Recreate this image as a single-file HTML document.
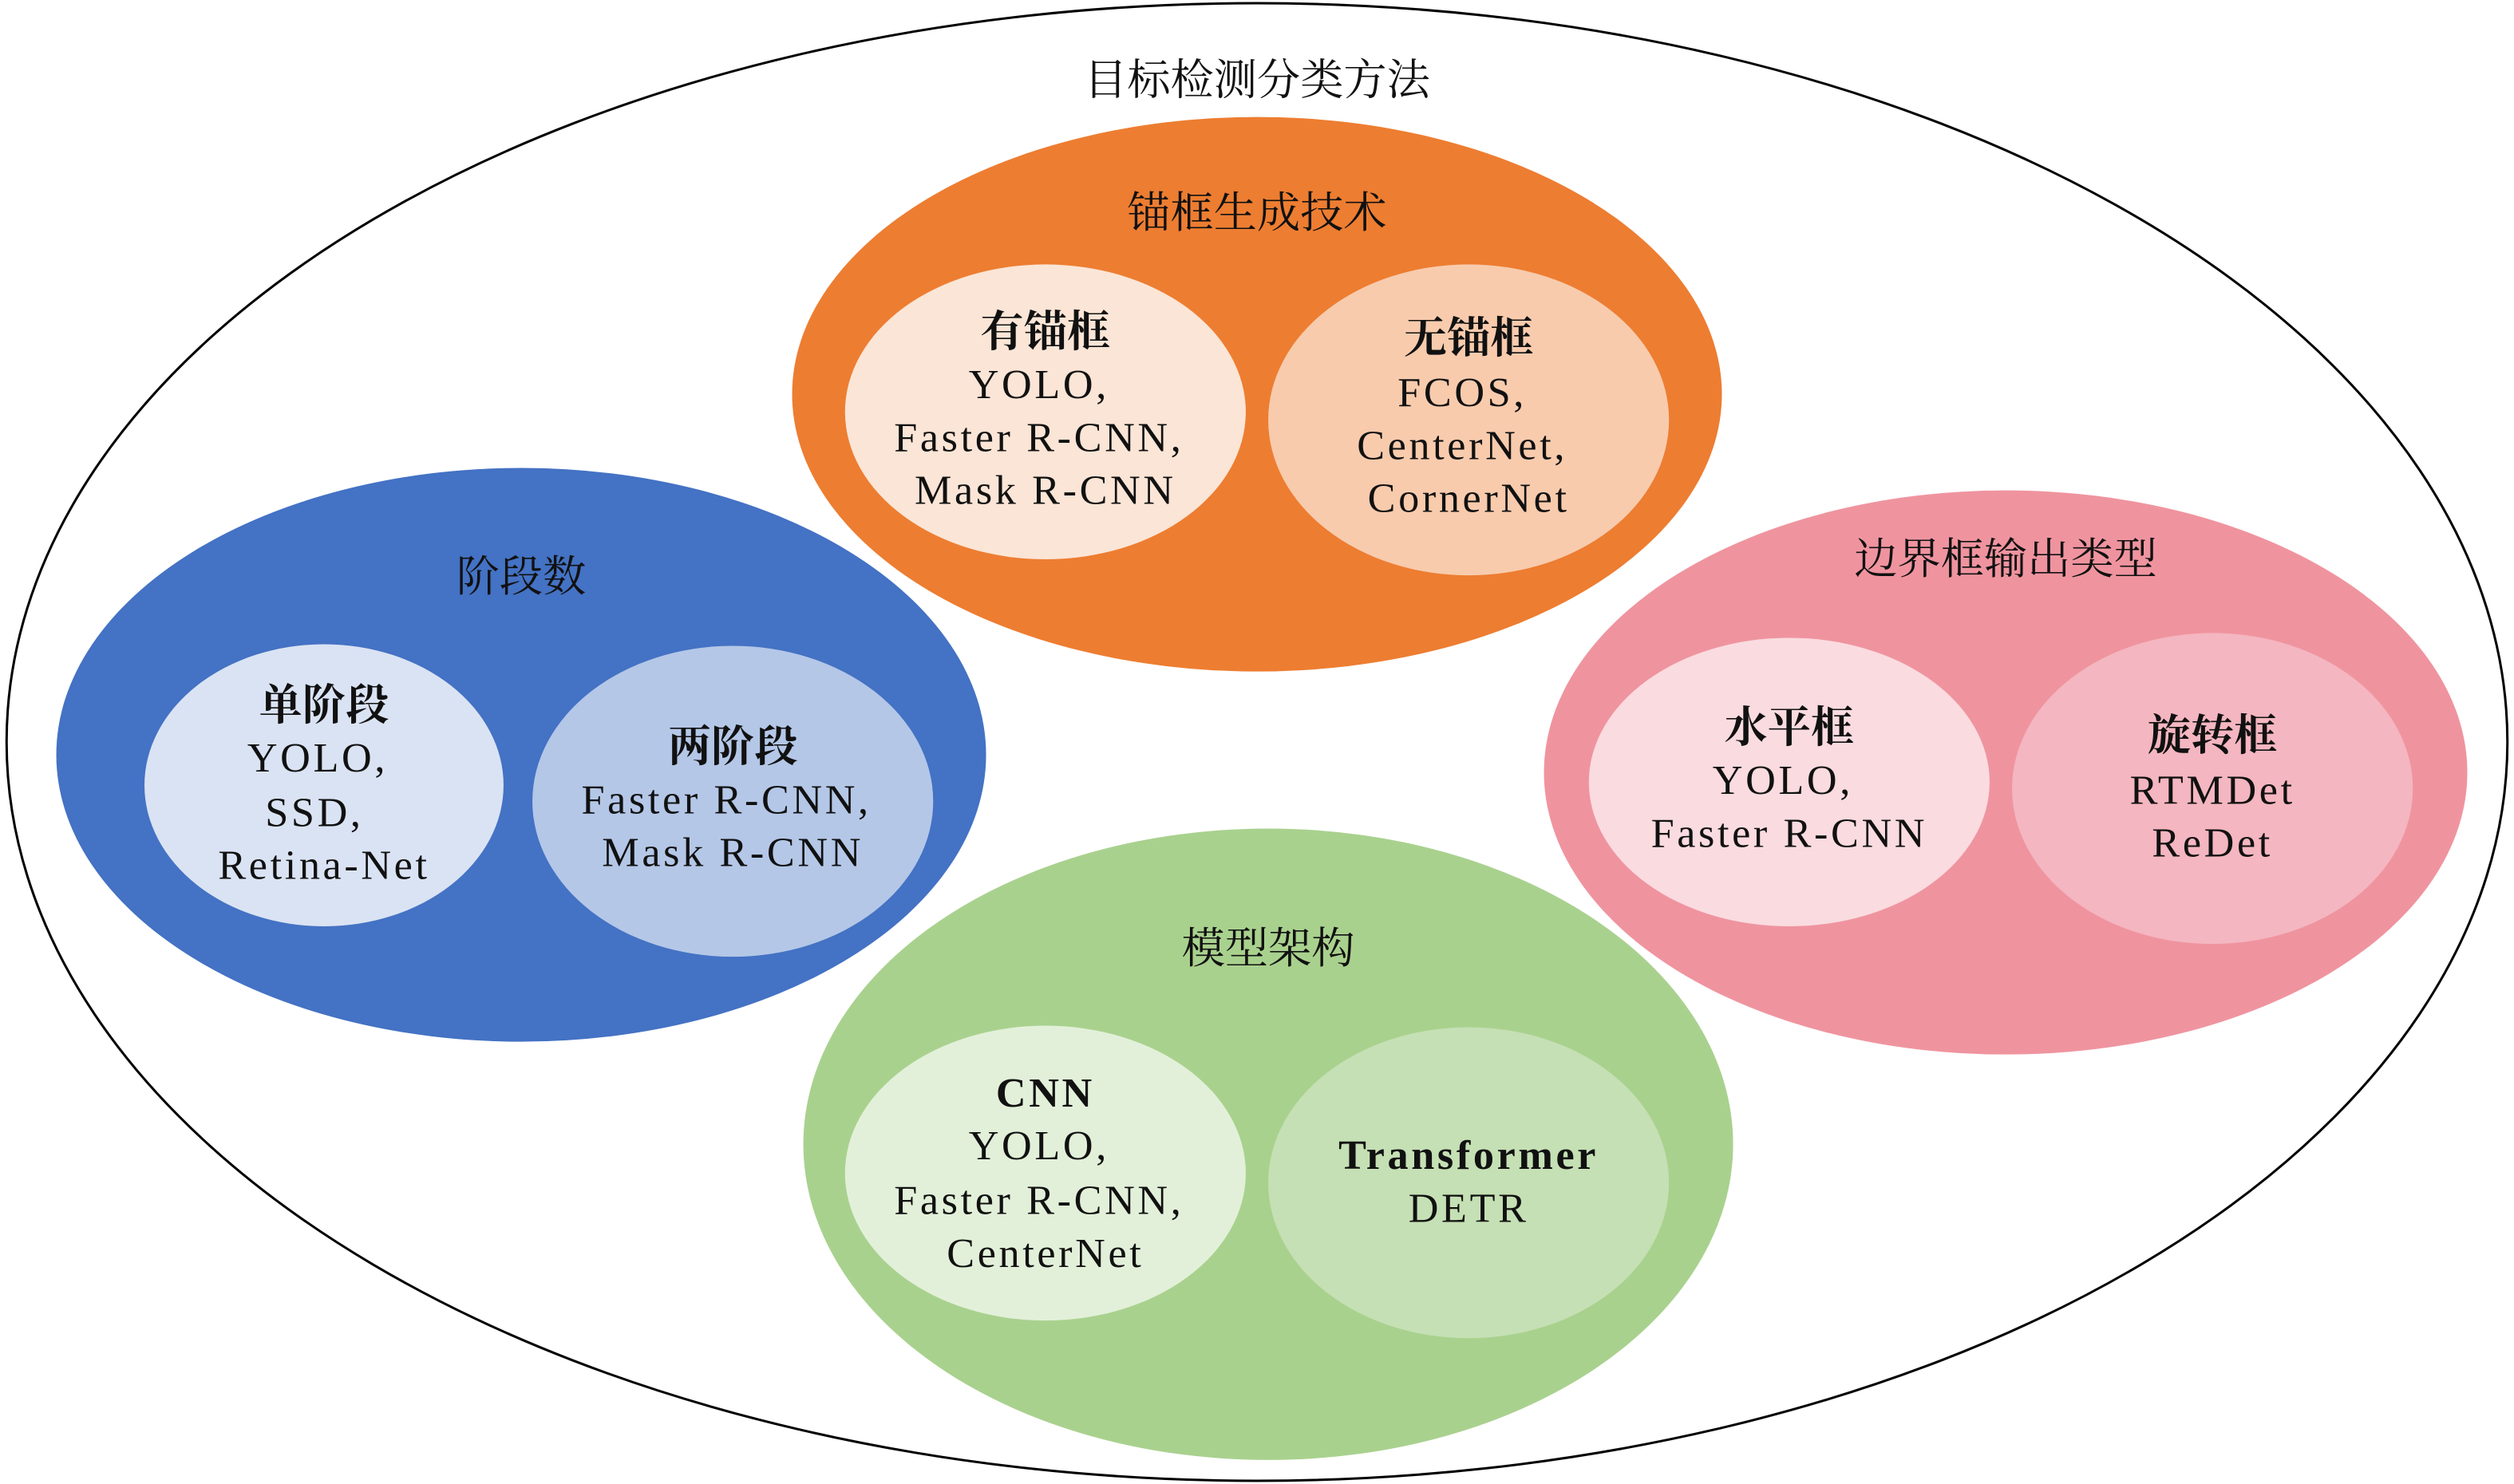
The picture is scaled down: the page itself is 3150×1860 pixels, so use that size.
<!DOCTYPE html>
<html><head><meta charset="utf-8"><style>
html,body{margin:0;padding:0;background:#fff;}
svg{display:block;}
text{font-family:"Liberation Serif","Noto Serif CJK SC",serif;font-size:27px;fill:#111;text-anchor:middle;dominant-baseline:central;}
.l{font-size:26px;letter-spacing:1.8px;}
.b{font-weight:bold;}
</style></head><body>
<svg width="3150" height="1860" viewBox="0 0 1568 926" xmlns="http://www.w3.org/2000/svg">
<rect width="1568" height="926" fill="#fff"/>
<ellipse cx="784" cy="463" rx="780" ry="461" fill="#fff" stroke="#000" stroke-width="1.5"/>
<text x="784" y="50">目标检测分类方法</text>

<ellipse cx="784" cy="246" rx="290" ry="173" fill="#ED7D31"/>
<text x="784" y="133">锚框生成技术</text>
<ellipse cx="652" cy="257" rx="125" ry="92" fill="#FBE5D6"/>
<text x="652" y="207" class="b">有锚框</text>
<text x="648" y="240" class="l">YOLO,</text>
<text x="648" y="273" class="l">Faster R-CNN,</text>
<text x="652" y="306" class="l">Mask R-CNN</text>
<ellipse cx="916" cy="262" rx="125" ry="97" fill="#F8CBAD"/>
<text x="916" y="211" class="b">无锚框</text>
<text x="912" y="245" class="l">FCOS,</text>
<text x="912" y="278" class="l">CenterNet,</text>
<text x="916" y="311" class="l">CornerNet</text>

<ellipse cx="325" cy="471" rx="290" ry="179" fill="#4472C4"/>
<text x="325" y="360">阶段数</text>
<ellipse cx="202" cy="490" rx="112" ry="88" fill="#DAE3F3"/>
<text x="202" y="440" class="b">单阶段</text>
<text x="198" y="473" class="l">YOLO,</text>
<text x="196" y="507" class="l">SSD,</text>
<text x="202" y="540" class="l">Retina-Net</text>
<ellipse cx="457" cy="500" rx="125" ry="97" fill="#B4C7E7"/>
<text x="457" y="466" class="b">两阶段</text>
<text x="453" y="499" class="l">Faster R-CNN,</text>
<text x="457" y="532" class="l">Mask R-CNN</text>

<ellipse cx="1251" cy="482" rx="288" ry="176" fill="#EF949F"/>
<text x="1251" y="349">边界框输出类型</text>
<ellipse cx="1116" cy="488" rx="125" ry="90" fill="#FADBE0"/>
<text x="1116" y="454" class="b">水平框</text>
<text x="1112" y="487" class="l">YOLO,</text>
<text x="1116" y="520" class="l">Faster R-CNN</text>
<ellipse cx="1380" cy="492" rx="125" ry="97" fill="#F4B6C0"/>
<text x="1380" y="459" class="b">旋转框</text>
<text x="1380" y="493" class="l">RTMDet</text>
<text x="1380" y="526" class="l">ReDet</text>

<ellipse cx="791" cy="714" rx="290" ry="197" fill="#A9D18E"/>
<text x="791" y="592">模型架构</text>
<ellipse cx="652" cy="732" rx="125" ry="92" fill="#E2F0D9"/>
<text x="652" y="682" class="b l">CNN</text>
<text x="648" y="715" class="l">YOLO,</text>
<text x="648" y="749" class="l">Faster R-CNN,</text>
<text x="652" y="782" class="l">CenterNet</text>
<ellipse cx="916" cy="738" rx="125" ry="97" fill="#C5E0B4"/>
<text x="916" y="721" class="b l">Transformer</text>
<text x="916" y="754" class="l">DETR</text>
</svg>
</body></html>
